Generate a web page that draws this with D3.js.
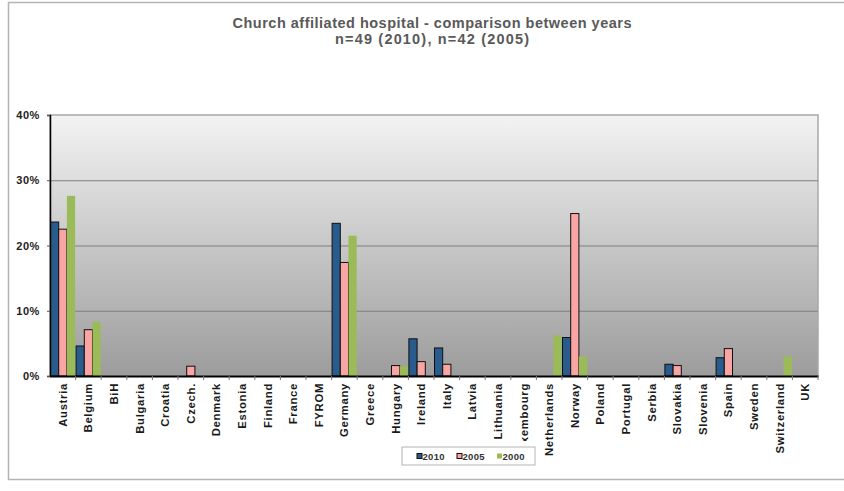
<!DOCTYPE html>
<html>
<head>
<meta charset="utf-8">
<script src="https://cdn.jsdelivr.net/npm/d3@7"></script>
<style>
  body { margin: 0; background: #fff; }
  svg { display: block; font-family: "Liberation Sans", Arial, sans-serif; }
</style>
</head>
<body>
<div id="chart"></div>
<script>
// data
const countries = ["Austria", "Belgium", "BiH", "Bulgaria", "Croatia", "Czech.", "Denmark", "Estonia",
  "Finland", "France", "FYROM", "Germany", "Greece", "Hungary", "Ireland", "Italy", "Latvia",
  "Lithuania", "Luxembourg", "Netherlands", "Norway", "Poland", "Portugal", "Serbia", "Slovakia",
  "Slovenia", "Spain", "Sweden", "Switzerland", "UK"];
const years = ["2010", "2005", "2000"];
const v2010 = [23.6, 4.6, 0, 0, 0, 0, 0, 0, 0, 0, 0, 23.4, 0, 0, 5.7, 4.3, 0, 0, 0, 0, 5.9, 0, 0, 0, 1.8, 0, 2.8, 0, 0, 0];
const v2005 = [22.5, 7.1, 0, 0, 0, 1.5, 0, 0, 0, 0, 0, 17.4, 0, 1.6, 2.2, 1.8, 0, 0, 0, 0, 24.9, 0, 0, 0, 1.6, 0, 4.2, 0, 0, 0];
const v2000 = [27.6, 8.3, 0, 0, 0, 0, 0, 0, 0, 0, 0, 21.5, 0, 1.5, 0, 0, 0, 0, 0, 6.2, 3.0, 0, 0, 0, 0, 0, 0, 0, 3.0, 0];
const yTicks = [0, 10, 20, 30, 40];
const colors = ["#295b8c", "#f9a5a3", "#9bbb59"];

const width = 844, height = 491;
const plot = { left: 50, top: 115, right: 818, bottom: 376 };

const svg = d3.select("#chart").append("svg")
  .attr("width", width)
  .attr("height", height);

// outer frame
svg.append("rect")
  .attr("x", 8.5).attr("y", 2.5)
  .attr("width", 900).attr("height", 477)
  .attr("fill", "none")
  .attr("stroke", "#b4b4b4")
  .attr("stroke-width", 1.5);

const defs = svg.append("defs");
const grad = defs.append("linearGradient")
  .attr("id", "bg").attr("x1", 0).attr("y1", 0).attr("x2", 0).attr("y2", 1);
grad.append("stop").attr("offset", "0%").attr("stop-color", "#f2f3f2");
grad.append("stop").attr("offset", "100%").attr("stop-color", "#9c9c9c");

const x = d3.scaleBand().domain(countries).range([plot.left, plot.right]);
const xs = d3.scaleBand().domain(years).range([0, x.bandwidth()]).paddingOuter(0.06);
const y = d3.scaleLinear().domain([0, 40]).range([plot.bottom, plot.top]);

svg.append("rect")
  .attr("x", plot.left).attr("y", plot.top)
  .attr("width", plot.right - plot.left).attr("height", plot.bottom - plot.top)
  .attr("fill", "url(#bg)")
  .attr("stroke", "#a8a8a8")
  .attr("stroke-width", 1.5);

// grid
svg.append("g").selectAll("line")
  .data(yTicks.filter(d => d > 0 && d < 40))
  .join("line")
  .attr("x1", plot.left).attr("x2", plot.right)
  .attr("y1", d => y(d) + 0.5).attr("y2", d => y(d) + 0.5)
  .attr("stroke", "#7f7f7f").attr("stroke-width", 1);

// bars
const series = [v2010, v2005, v2000];
series.forEach(function(vals, si) {
  svg.append("g").selectAll("rect")
    .data(vals.map((v, i) => ({ c: countries[i], v: v })).filter(d => d.v > 0))
    .join("rect")
    .attr("x", d => x(d.c) + xs(years[si]))
    .attr("y", d => y(d.v))
    .attr("width", xs.bandwidth())
    .attr("height", d => y(0) - y(d.v))
    .attr("fill", colors[si])
    .attr("stroke", si < 2 ? "#111" : "none")
    .attr("stroke-width", 1);
});

// y axis
const yAxis = svg.append("g")
  .attr("transform", `translate(${plot.left},0)`)
  .call(d3.axisLeft(y).tickValues(yTicks).tickFormat(d => d + "%").tickSize(3).tickPadding(7));
yAxis.select(".domain").attr("stroke", "#000").attr("stroke-width", 1.5);
yAxis.selectAll(".tick line").attr("stroke", "#555");
yAxis.selectAll("text")
  .attr("font-size", 11).attr("font-weight", "bold").attr("fill", "#222")
  .attr("letter-spacing", 0.6)
  .attr("font-family", "Liberation Sans, Arial, sans-serif");

// x axis
const xAxis = svg.append("g")
  .attr("transform", `translate(0,${plot.bottom})`)
  .call(d3.axisBottom(x).tickSize(0).tickPadding(0));
xAxis.select(".domain").attr("stroke", "#000").attr("stroke-width", 2);
xAxis.selectAll(".sep")
  .data(countries)
  .join("line")
  .attr("class", "sep")
  .attr("x1", d => x(d) + x.bandwidth()).attr("x2", d => x(d) + x.bandwidth())
  .attr("y1", 0).attr("y2", 4)
  .attr("stroke", "#777");

defs.append("clipPath").attr("id", "lux")
  .append("rect").attr("x", -200).attr("y", 0).attr("width", 400).attr("height", 65);

xAxis.selectAll(".tick text")
  .attr("transform", "translate(4,7) rotate(-90)")
  .attr("text-anchor", "end")
  .attr("dy", 0)
  .attr("font-size", 11.3).attr("font-weight", "bold").attr("fill", "#1a1a1a")
  .attr("letter-spacing", 0.7)
  .attr("font-family", "Liberation Sans, Arial, sans-serif");
xAxis.selectAll(".tick")
  .filter(d => d === "Luxembourg")
  .attr("clip-path", "url(#lux)");

// title
const title = svg.append("text")
  .attr("text-anchor", "middle")
  .attr("font-size", 14.5).attr("font-weight", "bold").attr("fill", "#595959");
title.append("tspan").attr("x", 432).attr("y", 28)
  .attr("textLength", 399).attr("lengthAdjust", "spacing")
  .text("Church affiliated hospital - comparison between years");
title.append("tspan").attr("x", 432).attr("y", 44)
  .attr("textLength", 194).attr("lengthAdjust", "spacing")
  .text("n=49 (2010), n=42 (2005)");

// legend
const legend = svg.append("g").attr("transform", "translate(402,447)");
legend.append("rect")
  .attr("width", 133).attr("height", 18)
  .attr("fill", "#fff").attr("stroke", "#b4b4b4");
const li = legend.selectAll(".item").data(years).join("g")
  .attr("class", "item")
  .attr("transform", (d, i) => `translate(${15 + i * 40},0)`);
li.append("rect")
  .attr("x", 0).attr("y", 6.5).attr("width", 5).attr("height", 5)
  .attr("fill", (d, i) => colors[i])
  .attr("stroke", (d, i) => i < 2 ? "#111" : "none");
li.append("text")
  .attr("x", 5.5).attr("y", 12.5)
  .attr("font-size", 9.5).attr("font-weight", "bold").attr("fill", "#333")
  .attr("letter-spacing", 0.3)
  .text(d => d);
</script>
</body>
</html>
